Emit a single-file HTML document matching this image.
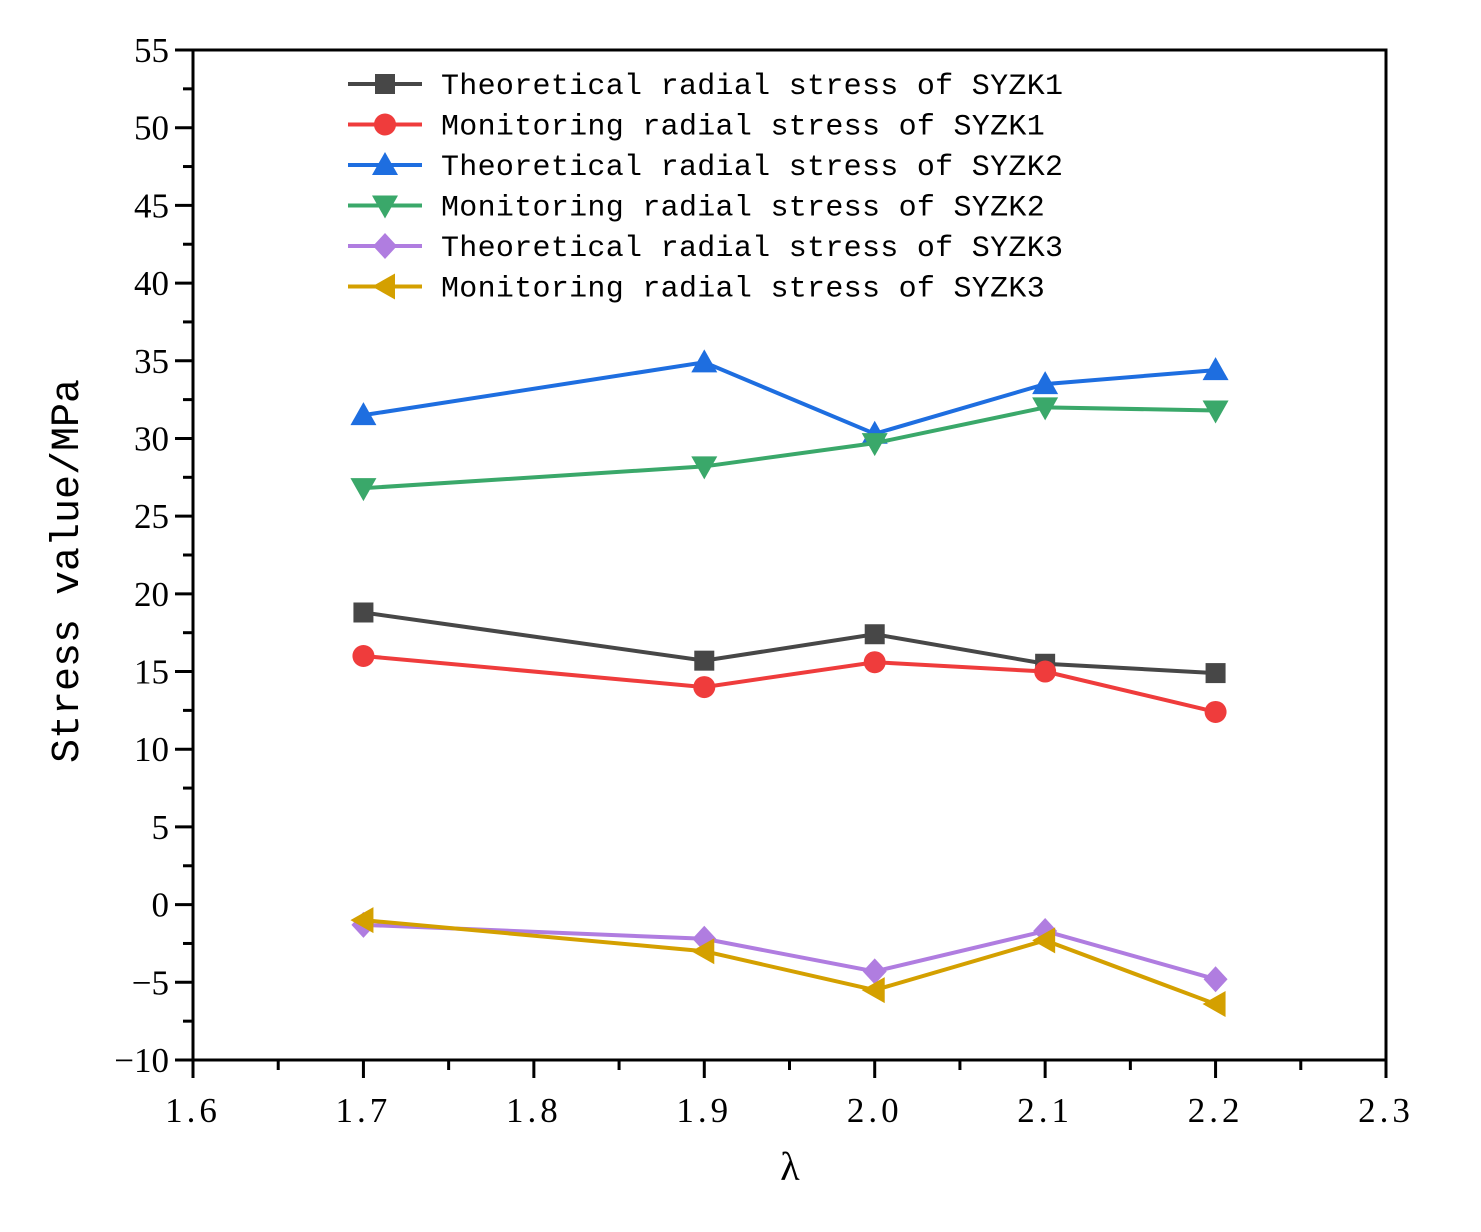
<!DOCTYPE html>
<html><head><meta charset="utf-8"><style>
body{margin:0;background:#fff}
svg text{font-family:"Liberation Serif",serif}
svg text.leg{font-family:"Liberation Mono",monospace;font-size:30px;letter-spacing:0.3px}
svg text.yt{font-family:"Liberation Mono",monospace;font-size:40px}
</style></head><body>
<svg id="c" width="1481" height="1227" xmlns="http://www.w3.org/2000/svg"></svg>
<script>
const xCats=[1.7,1.9,2.0,2.1,2.2];
const sT1=[18.8,15.7,17.4,15.5,14.9];
const sM1=[16.0,14.0,15.6,15.0,12.4];
const sT2=[31.5,34.9,30.3,33.5,34.4];
const sM2=[26.8,28.2,29.7,32.0,31.8];
const sT3=[-1.3,-2.2,-4.3,-1.7,-4.8];
const sM3=[-1.0,-3.0,-5.5,-2.3,-6.4];
const xTicks=["1.6","1.7","1.8","1.9","2.0","2.1","2.2","2.3"];
const yTicks=[55,50,45,40,35,30,25,20,15,10,5,0,-5,-10];
const names=["Theoretical radial stress of SYZK1","Monitoring radial stress of SYZK1","Theoretical radial stress of SYZK2","Monitoring radial stress of SYZK2","Theoretical radial stress of SYZK3","Monitoring radial stress of SYZK3"];
const L=193,R=1386,T=50,B=1060;
const X=v=>L+(v-1.6)/0.7*(R-L);
const Y=v=>T+(55-v)/65*(B-T);
const svg=document.getElementById('c');
const NS="http://www.w3.org/2000/svg";
function mk(t,a,p){const e=document.createElementNS(NS,t);for(const k in a)e.setAttribute(k,a[k]);(p||svg).appendChild(e);return e;}
let e=mk('rect',{x:L,y:T,width:R-L,height:B-T,fill:'none',stroke:'#000','stroke-width':3});


for(let i=0;i<xTicks.length;i++){const x=X(1.6+i*0.1);
 e=mk('line',{x1:x,x2:x,y1:B,y2:B+18,stroke:'#000','stroke-width':3});
 
 
 if(i<xTicks.length-1){const xm=X(1.65+i*0.1);mk('line',{x1:xm,x2:xm,y1:B,y2:B+10,stroke:'#000','stroke-width':3});}
 e=mk('text',{x:x,y:B+62,'font-size':35,'text-anchor':'middle','letter-spacing':'4'});e.textContent=xTicks[i];
 
 
}
for(let i=0;i<yTicks.length;i++){const y=Y(yTicks[i]);
 e=mk('line',{x1:L-18,x2:L,y1:y,y2:y,stroke:'#000','stroke-width':3});
 
 
 if(i<yTicks.length-1){const ym=Y(yTicks[i]-2.5);mk('line',{x1:L-10,x2:L,y1:ym,y2:ym,stroke:'#000','stroke-width':3});}
 e=mk('text',{x:L-24,y:y+12,'font-size':35,'text-anchor':'end'});e.textContent=yTicks[i]<0?'\u2212'+(-yTicks[i]):yTicks[i];
 
 
}
e=mk('text',{x:790,y:1180,'font-size':40,'text-anchor':'middle'});e.textContent='λ';


e=mk('text',{x:0,y:0,'text-anchor':'middle',class:'yt',transform:'translate(78,571) rotate(-90)'});e.textContent='Stress value/MPa';


function marker(type,x,y,c,p){
 if(type==0)return mk('rect',{x:x-10,y:y-10,width:20,height:20,fill:c},p);
 if(type==1)return mk('circle',{cx:x,cy:y,r:11,fill:c},p);
 if(type==2)return mk('polygon',{points:`${x},${y-13} ${x-13},${y+10} ${x+13},${y+10}`,fill:c},p);
 if(type==3)return mk('polygon',{points:`${x},${y+13} ${x-13},${y-10} ${x+13},${y-10}`,fill:c},p);
 if(type==4)return mk('polygon',{points:`${x},${y-13} ${x+12},${y} ${x},${y+13} ${x-12},${y}`,fill:c},p);
 return mk('polygon',{points:`${x-13},${y} ${x+10},${y-13} ${x+10},${y+13}`,fill:c},p);
}
const series=[sT1,sM1,sT2,sM2,sT3,sM3];
const colors=['#474747','#ef3c3c','#1e6ee0','#3aa86a','#b07de0','#d4a000'];
const snames=['series-theo-syzk1','series-mon-syzk1','series-theo-syzk2','series-mon-syzk2','series-theo-syzk3','series-mon-syzk3'];
series.forEach((s,k)=>{
 const g=mk('g',{});
 
 
 mk('polyline',{points:s.map((v,i)=>X(xCats[i])+','+Y(v)).join(' '),fill:'none',stroke:colors[k],'stroke-width':4},g);
 s.forEach((v,i)=>{const m=marker(k,X(xCats[i]),Y(v),colors[k],g);
  
  });
});
const lg=mk('g',{});


names.forEach((n,k)=>{const y=84+k*40.5;
 const g=mk('g',{},lg);
 
 
 mk('line',{x1:348,x2:422,y1:y,y2:y,stroke:colors[k],'stroke-width':4},g);
 marker(k,385,y,colors[k],g);
 const t=mk('text',{x:441,y:y+10,class:'leg',fill:'#000'},g);t.textContent=n;
});
</script>
</body></html>
